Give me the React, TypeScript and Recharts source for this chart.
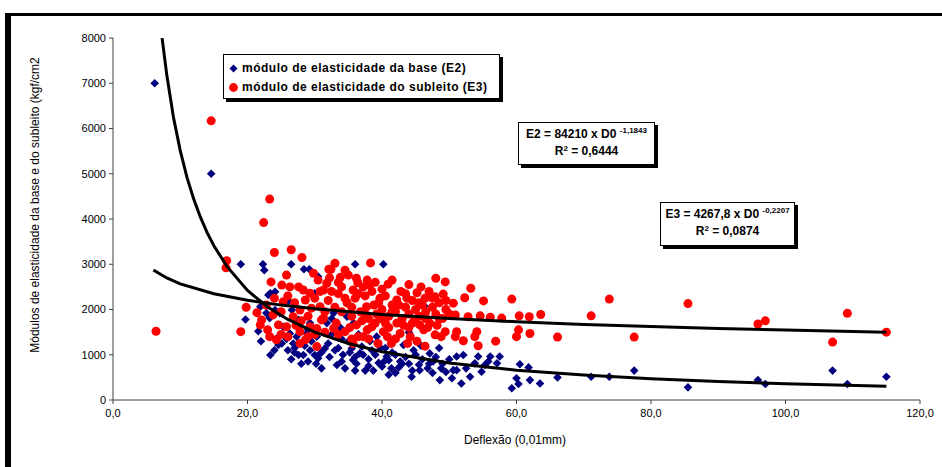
import React from 'react';
import { ScatterChart, Scatter, XAxis, YAxis, Legend } from 'recharts';

// Deflexão (0,01mm) vs módulo de elasticidade da base (E2)
const baseE2: [number, number][] = [
  [6.2, 7000], [14.6, 5000],
  [19.0, 3000], [22.3, 3000], [22.5, 2870], [26.5, 3000], [28.4, 2890], [29.2, 2890], [30.5, 2730], [36.0, 3000], [40.2, 3000],
  [23.4, 2360], [24.1, 2390], [19.7, 1780], [21.6, 1520], [23.4, 995],
  [26.1, 2190], [23.1, 2320], [21.9, 2060], [24.1, 1990], [23.3, 1810], [24.8, 1920], [26.6, 1990], [27.6, 1770],
  [25.3, 1620], [26.3, 1470], [24.3, 1360], [24.6, 1215], [25.1, 1250], [26.8, 1250], [27.6, 995], [28.3, 995],
  [29.3, 1100], [30.0, 995], [30.5, 920], [31.5, 1140], [30.3, 1400], [31.3, 1840], [29.3, 1700], [30.0, 2360],
  [22.8, 1920], [28.8, 1470], [27.3, 1400], [28.0, 800], [29.0, 850], [26.0, 1100], [27.0, 1050],
  [30.8, 1030], [33.3, 775], [37.5, 650], [38.7, 650], [40.0, 740], [41.4, 700], [42.7, 850], [44.4, 515],
  [45.6, 660], [47.6, 850], [48.6, 440], [50.4, 480], [51.1, 660], [35.5, 1140], [36.7, 1030], [31.8, 1700],
  [32.8, 1920], [34.8, 1840], [39.2, 1400], [43.2, 1215], [44.7, 1100], [47.1, 1030], [40.7, 960], [35.7, 885],
  [46.3, 2080],
  [32.0, 1250], [33.5, 1150], [34.2, 1000], [35.0, 1300], [36.0, 950], [37.0, 1180], [38.0, 900], [38.5, 1100],
  [39.5, 820], [40.5, 1150], [41.0, 880], [42.0, 1000], [42.5, 720], [43.5, 950], [44.0, 800], [45.0, 1000],
  [45.5, 780], [46.0, 900], [46.8, 700], [47.5, 600], [48.0, 950], [49.0, 800], [49.5, 620], [50.0, 900],
  [32.5, 1450], [34.0, 1350], [36.5, 1450], [38.2, 1300], [41.8, 1350], [44.0, 1500], [48.5, 1150],
  [31.0, 700], [34.5, 700], [42.0, 600],
  [25.8, 1350], [27.0, 1150], [28.5, 1200], [29.5, 1300], [31.0, 1050], [32.2, 950], [33.0, 1100], [34.0, 850],
  [35.2, 1050], [36.2, 800], [37.2, 1000], [38.0, 750], [39.0, 1000], [39.8, 1150], [40.3, 850], [41.5, 1050],
  [43.0, 800], [44.5, 650], [45.8, 1200], [47.0, 800], [48.8, 700], [33.8, 1600], [35.8, 1700], [37.8, 1550],
  [27.5, 1600], [29.0, 1550], [32.5, 1800], [22.0, 1300], [24.0, 1100], [26.5, 900], [30.2, 800], [36.0, 650], [41.0, 560],
  [51.1, 960], [52.1, 995], [54.3, 960], [56.1, 960], [57.5, 960], [57.1, 810], [55.3, 775], [53.8, 810],
  [50.6, 660], [53.1, 515], [51.8, 365], [54.8, 625], [60.5, 790], [61.8, 720], [60.0, 480], [60.3, 355],
  [59.3, 260], [62.0, 440], [63.5, 365], [66.1, 500], [52.5, 700], [55.8, 850],
  [71.1, 515], [73.8, 515], [77.5, 650], [85.5, 280], [95.9, 440], [97.0, 355], [107.0, 650], [109.2, 355], [115.0, 515],
];

// Deflexão (0,01mm) vs módulo de elasticidade do subleito (E3)
const subleitoE3: [number, number][] = [
  [6.4, 1520], [14.6, 6170], [23.3, 4440], [22.4, 3920], [16.9, 3080], [16.8, 2920], [24.0, 3260], [26.5, 3320],
  [28.1, 3150], [25.8, 2760], [19.8, 2050], [19.0, 1510], [23.5, 2610], [25.1, 2540], [32.1, 2890],
  [21.4, 1930], [22.1, 1770], [21.9, 1660], [23.3, 1400], [24.3, 1330], [24.6, 1660], [25.8, 1620], [23.8, 1880],
  [26.8, 1840], [27.8, 1510], [28.6, 1330], [27.8, 1250], [29.0, 1400], [30.3, 1180], [29.3, 1620], [30.3, 1580],
  [31.0, 1770], [28.3, 2430], [29.3, 2360], [26.3, 2500], [27.6, 2500], [28.6, 2210], [27.8, 1990], [29.5, 2030],
  [30.8, 2060], [31.3, 2430], [31.8, 2580], [25.3, 2170],
  [22.8, 2100], [24.0, 2250], [25.0, 1950], [26.0, 2300], [27.0, 2150], [28.0, 1750], [29.0, 1850], [30.0, 2250],
  [30.5, 2650], [29.8, 2800], [26.0, 1400], [25.0, 1450],
  [33.0, 3020], [38.3, 3030], [32.4, 2890], [34.5, 2870], [33.8, 2710], [35.0, 2760], [36.2, 2690], [36.4, 2590],
  [37.2, 2500], [38.2, 2540], [40.9, 2560], [40.0, 2450], [48.0, 2690], [49.4, 2610], [45.2, 2370], [46.4, 2250],
  [47.9, 2280], [49.1, 2340], [50.6, 2140], [42.2, 2210], [43.7, 2250], [39.7, 2250], [37.7, 2060], [35.7, 2430],
  [31.3, 1800], [32.8, 1580], [34.5, 1510], [36.2, 1660], [37.2, 1400], [38.5, 1620], [40.2, 1510], [39.4, 1250],
  [41.4, 1250], [42.7, 1470], [44.2, 1400], [42.2, 1700], [45.6, 1660], [47.1, 1700], [47.9, 1440], [46.4, 1190],
  [49.4, 1510], [50.9, 1400], [35.7, 1250],
  [32.0, 2200], [33.0, 2050], [33.5, 2350], [34.0, 1950], [34.8, 2150], [35.5, 1850], [36.0, 2250], [36.8, 1950],
  [37.5, 2300], [38.0, 1800], [38.8, 2100], [39.2, 1900], [40.0, 2000], [40.5, 2300], [41.0, 1850], [41.5, 2100],
  [42.0, 1950], [42.8, 2400], [43.0, 1800], [43.5, 2050], [44.0, 1900], [44.5, 2200], [45.0, 2000], [45.5, 1850],
  [46.0, 2100], [46.5, 1950], [47.0, 2400], [47.5, 2050], [48.0, 1900], [48.5, 2150], [49.0, 1800], [49.5, 2000],
  [50.0, 1900], [33.2, 1700], [35.2, 1600], [37.0, 1750], [39.0, 1700], [41.0, 1600], [43.2, 1650], [44.8, 1750],
  [46.2, 1550], [48.2, 1650], [36.5, 1400], [38.0, 1350], [40.8, 1400], [43.8, 1250], [45.2, 1300], [34.0, 2500],
  [37.8, 2650], [39.0, 2600], [41.5, 2650], [44.0, 2550], [45.8, 2500],
  [31.5, 1950], [32.5, 2400], [33.5, 2600], [34.5, 2250], [35.5, 2050], [36.5, 2350], [37.5, 1900], [38.5, 2400],
  [39.5, 2150], [40.5, 1700], [41.5, 1950], [42.5, 2100], [43.5, 2350], [44.5, 1700], [45.5, 2150], [46.5, 1800],
  [47.5, 2250], [48.5, 1800], [49.5, 2200], [31.5, 1500], [33.5, 1450], [35.5, 1350], [37.8, 1550], [39.8, 1800],
  [42.0, 1350], [44.0, 1600], [46.8, 1600], [48.8, 1400], [23.0, 1550], [27.2, 1650], [30.0, 1450], [32.2, 2700], [30.8, 2400],
  [53.2, 2470], [52.3, 2260], [55.1, 2190], [59.3, 2230], [50.9, 1880], [52.8, 1840], [54.6, 1860], [56.1, 1830],
  [57.8, 1810], [60.4, 1860], [61.9, 1840], [63.6, 1890], [51.1, 1510], [52.1, 1310], [53.8, 1400], [54.3, 1200],
  [54.1, 1510], [56.9, 1300], [60.3, 1550], [60.0, 1400], [62.0, 1470], [66.1, 1390],
  [71.1, 1860], [73.8, 2230], [77.5, 1390], [85.5, 2130], [95.9, 1680], [97.0, 1750], [107.0, 1280], [109.2, 1915], [115.0, 1500],
];

// Trend curves
const curveE2: [number, number][] = [
  [7.3, 8000], [8, 7180], [9, 6240], [10, 5510], [11, 4920], [12, 4440], [13, 4040], [14, 3700], [15, 3410],
  [17, 2940], [20, 2420], [23, 2055], [26, 1780], [30, 1500], [35, 1250], [40, 1067], [50, 820], [60, 660],
  [70, 550], [80, 470], [90, 408], [100, 360], [115, 305],
];
const curveE3: [number, number][] = [
  [6, 2874], [8, 2697], [10, 2567], [15, 2348], [20, 2203], [25, 2097], [30, 2015], [40, 1891], [50, 1800],
  [60, 1729], [70, 1671], [80, 1623], [90, 1581], [100, 1545], [115, 1498],
];

const xTicks = [0, 20, 40, 60, 80, 100, 120];
const yTicks = [0, 1000, 2000, 3000, 4000, 5000, 6000, 7000, 8000];
const legendLabels = ['módulo de elasticidade da base (E2)', 'módulo de elasticidade do subleito (E3)'];
const eqE2 = { lhs: 'E2 = 84210 x D0', exp: '-1,1843', r2: '0,6444' };
const eqE3 = { lhs: 'E3 = 4267,8 x D0', exp: '-0,2207', r2: '0,0874' };

const toObj = (arr: [number, number][]) => arr.map(([x, y]) => ({ x, y }));

const FONT = "Arial, 'Liberation Sans', sans-serif";
const BLUE = '#000080';
const RED = '#ff0000';

const Diamond = (props: any) => {
  const { cx, cy } = props;
  if (cx == null || cy == null) return <g />;
  const s = 4.3;
  return <polygon points={`${cx},${cy - s} ${cx + s},${cy} ${cx},${cy + s} ${cx - s},${cy}`} fill={BLUE} />;
};
const Dot = (props: any) => {
  const { cx, cy } = props;
  if (cx == null || cy == null) return <g />;
  return <circle cx={cx} cy={cy} r={4.5} fill={RED} />;
};
const NoShape = () => <g />;

const renderLegend = () => (
  <div
    style={{
      width: 277,
      height: 45,
      border: '1.5px solid #000',
      boxShadow: '3px 3px 0 #000',
      background: '#fff',
      fontFamily: FONT,
      fontWeight: 'bold',
      fontSize: 12,
      letterSpacing: 0.5,
      boxSizing: 'border-box',
      paddingLeft: 5,
      paddingTop: 4,
    }}
  >
    <div style={{ display: 'flex', alignItems: 'center', height: 18 }}>
      <svg width={9} height={9} style={{ marginRight: 4 }}>
        <polygon points="4.5,0.5 8.5,4.5 4.5,8.5 0.5,4.5" fill={BLUE} />
      </svg>
      <span>{legendLabels[0]}</span>
    </div>
    <div style={{ display: 'flex', alignItems: 'center', height: 20 }}>
      <svg width={9} height={9} style={{ marginRight: 4 }}>
        <circle cx={4.5} cy={4.5} r={4.4} fill={RED} />
      </svg>
      <span>{legendLabels[1]}</span>
    </div>
  </div>
);

const EqBox = ({ left, top, width, height, eq }: any) => (
  <div
    style={{
      position: 'absolute',
      left,
      top,
      width,
      height,
      border: '1.5px solid #000',
      boxShadow: '3px 3px 0 #000',
      background: '#fff',
      boxSizing: 'border-box',
      fontFamily: FONT,
      fontWeight: 'bold',
      fontSize: 12,
      textAlign: 'center',
      lineHeight: '17px',
      paddingTop: 3,
    }}
  >
    <div style={{ whiteSpace: 'nowrap' }}>
      {eq.lhs} <sup style={{ fontSize: 8, verticalAlign: 5, lineHeight: 0 }}>{eq.exp}</sup>
    </div>
    <div>
      R<sup style={{ fontSize: 8, verticalAlign: 4, lineHeight: 0 }}>2</sup> = {eq.r2}
    </div>
  </div>
);

export default function App() {
  return (
    <div style={{ position: 'absolute', left: 0, top: 0, width: 942, height: 467, overflow: 'hidden', background: '#fff' }}>
      <div
        style={{
          position: 'absolute',
          left: 5,
          top: 13,
          width: 1000,
          height: 600,
          borderTop: '3px solid #000',
          borderLeft: '6px solid #000',
        }}
      />
      <div style={{ position: 'absolute', left: 0, top: 0 }}>
        <ScatterChart width={942} height={467} margin={{ top: 38, right: 22, bottom: 37, left: 53 }}>
          <XAxis
            dataKey="x"
            type="number"
            domain={[0, 120]}
            ticks={xTicks}
            interval={0}
            height={30}
            tickSize={4}
            tickMargin={5}
            stroke="#404040"
            tick={{ fill: '#000', fontSize: 11, fontFamily: FONT }}
            tickFormatter={(v: number) => v.toFixed(1).replace('.', ',')}
          />
          <YAxis
            dataKey="y"
            type="number"
            domain={[0, 8000]}
            ticks={yTicks}
            interval={0}
            width={60}
            tickSize={4}
            tickMargin={3}
            stroke="#404040"
            allowDataOverflow
            tick={{ fill: '#000', fontSize: 11, fontFamily: FONT }}
          />
          <Legend
            layout="vertical"
            align="center"
            verticalAlign="middle"
            content={renderLegend}
            wrapperStyle={{ left: 223, top: 54, width: 280, height: 48 }}
          />
          <Scatter name={legendLabels[0]} data={toObj(baseE2)} shape={Diamond} isAnimationActive={false} />
          <Scatter name={legendLabels[1]} data={toObj(subleitoE3)} shape={Dot} isAnimationActive={false} />
          <Scatter
            name="curvaE2"
            data={toObj(curveE2)}
            shape={NoShape}
            line={{ stroke: '#000', strokeWidth: 3 }}
            lineType="joint"
            legendType="none"
            isAnimationActive={false}
          />
          <Scatter
            name="curvaE3"
            data={toObj(curveE3)}
            shape={NoShape}
            line={{ stroke: '#000', strokeWidth: 3 }}
            lineType="joint"
            legendType="none"
            isAnimationActive={false}
          />
        </ScatterChart>
      </div>
      <EqBox left={518} top={122} width={137} height={43} eq={eqE2} />
      <EqBox left={660} top={202} width={135} height={44} eq={eqE3} />
      <div
        style={{
          position: 'absolute',
          left: 35 - 170,
          top: 205 - 8,
          width: 340,
          height: 16,
          textAlign: 'center',
          fontFamily: FONT,
          fontSize: 12,
          lineHeight: '16px',
          transform: 'rotate(-90deg)',
          transformOrigin: 'center',
          whiteSpace: 'nowrap',
        }}
      >
        Módulos de elasticidade da base e do subleito (kgf/cm2
      </div>
      <div
        style={{
          position: 'absolute',
          left: 515 - 100,
          top: 432,
          width: 200,
          textAlign: 'center',
          fontFamily: FONT,
          fontSize: 12,
          lineHeight: '16px',
        }}
      >
        Deflexão (0,01mm)
      </div>
    </div>
  );
}
